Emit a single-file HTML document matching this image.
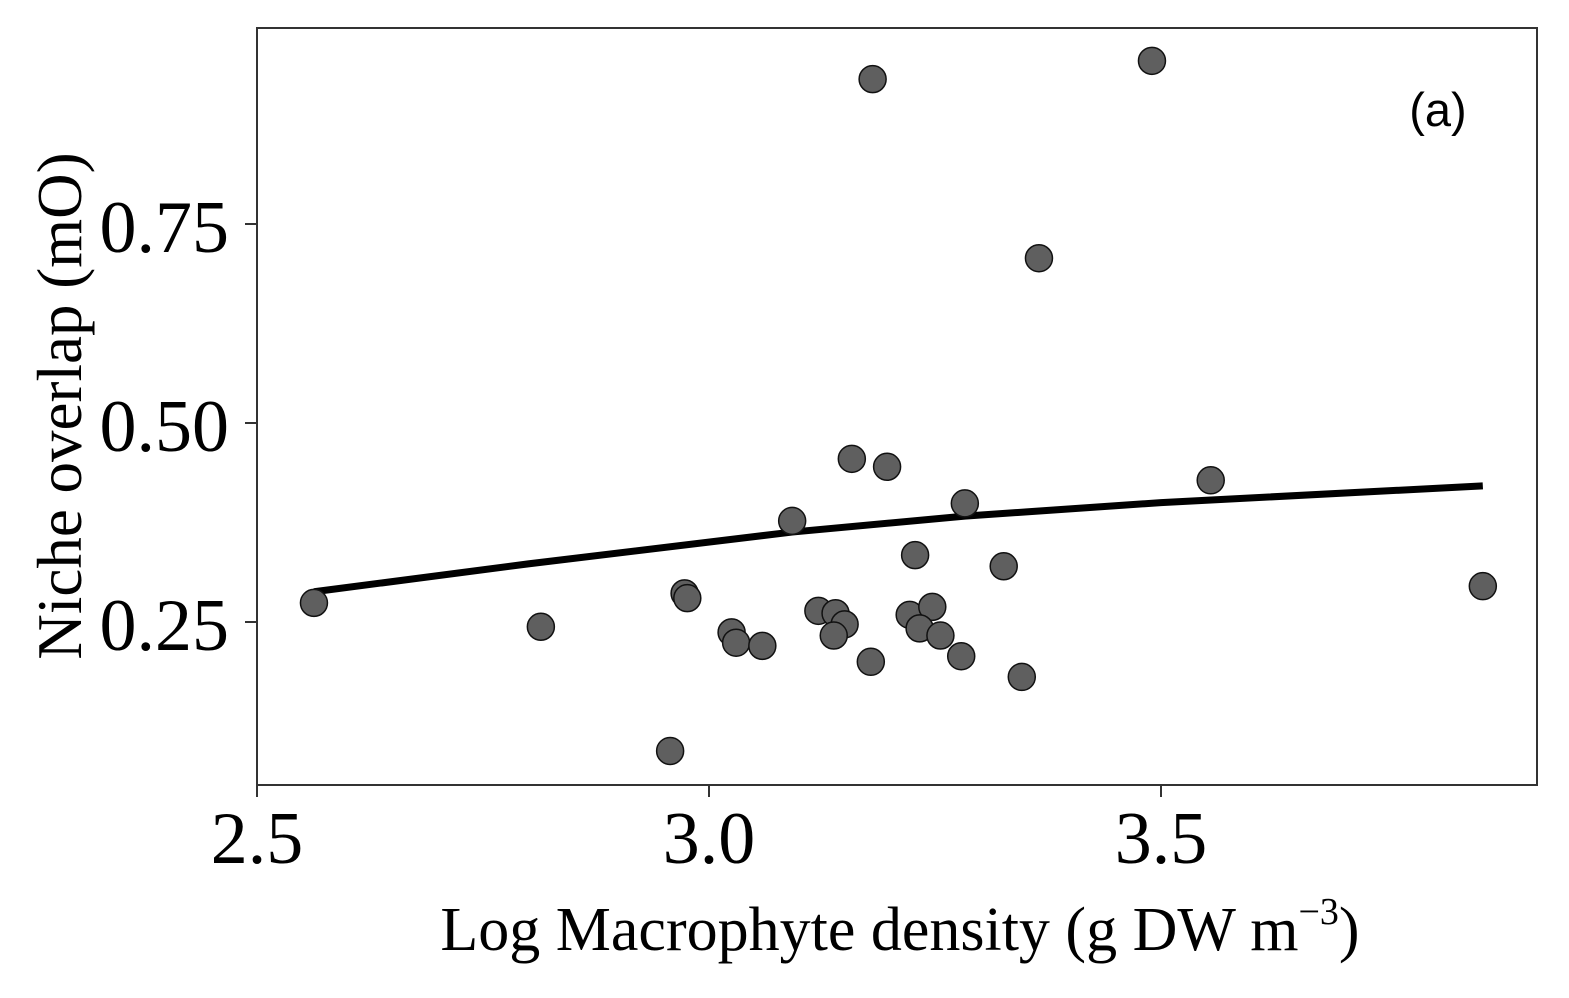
<!DOCTYPE html>
<html><head><meta charset="utf-8"><style>
body{margin:0;background:#fff}
svg text{font-family:"Liberation Serif",serif;fill:#000}
</style></head><body>
<svg width="1569" height="993" id="chart">
<rect x="257" y="28" width="1280" height="757" fill="#fff" stroke="#333" stroke-width="2"/>
<text x="1438" y="126" text-anchor="middle" font-size="47" style="font-family:'Liberation Sans',sans-serif">(a)</text>
<text x="900" y="950" text-anchor="middle" font-size="62">Log Macrophyte density (g DW m<tspan dy="-26" font-size="38">−3</tspan><tspan dy="26">)</tspan></text>
<text transform="translate(81,406) rotate(-90)" text-anchor="middle" font-size="63">Niche overlap (mO)</text>
<g id="ticks"></g><g id="fit"></g><g id="pts"></g>
</svg>
<script>
const xVals=[2.563,2.814,2.957,2.973,2.976,3.025,3.030,3.059,3.092,3.121,3.140,3.150,3.138,3.158,3.181,3.179,3.197,3.222,3.228,3.247,3.233,3.256,3.279,3.283,3.326,3.346,3.365,3.490,3.555,3.856];
const yVals=[0.274,0.244,0.088,0.286,0.280,0.237,0.224,0.220,0.377,0.264,0.261,0.247,0.233,0.455,0.932,0.200,0.445,0.259,0.334,0.269,0.242,0.233,0.207,0.399,0.320,0.181,0.707,0.955,0.428,0.295];
const xTicks=[2.5,3.0,3.5];
const xTickLabels=["2.5","3.0","3.5"];
const yTicks=[0.25,0.5,0.75];
const yTickLabels=["0.25","0.50","0.75"];
const fitX=[2.563,2.8,3.092,3.283,3.5,3.856];
const fitY=[0.288,0.323,0.363,0.383,0.400,0.421];
const NS="http://www.w3.org/2000/svg";
const sx=v=>257+(v-2.5)*904;
const sy=v=>821-v*796;
function mk(t,a,p){const e=document.createElementNS(NS,t);for(const k in a)e.setAttribute(k,a[k]);p.appendChild(e);return e;}
const tg=document.getElementById('ticks');
xTicks.forEach((v,i)=>{
 const l=mk('line',{x1:sx(v),x2:sx(v),y1:785,y2:797,stroke:'#333','stroke-width':2},tg);
 
 
 const t=mk('text',{x:sx(v),y:863,'text-anchor':'middle','font-size':74},tg);t.textContent=xTickLabels[i];
 
 
});
yTicks.forEach((v,i)=>{
 const l=mk('line',{x1:245,x2:257,y1:sy(v),y2:sy(v),stroke:'#333','stroke-width':2},tg);
 
 
 const t=mk('text',{x:229,y:sy(v)+28,'text-anchor':'end','font-size':74},tg);t.textContent=yTickLabels[i];
 
 
});
const fl=mk('polyline',{points:fitX.map((x,i)=>sx(x)+','+sy(fitY[i])).join(' '),fill:'none',stroke:'#000','stroke-width':7,'stroke-linejoin':'round'},document.getElementById('fit'));


const pg=document.getElementById('pts');
xVals.forEach((x,i)=>{
 const c=mk('circle',{cx:sx(x),cy:sy(yVals[i]),r:13.5,fill:'#5f5f5f',stroke:'#111','stroke-width':1.5},pg);
 
 
});
</script>
</body></html>
